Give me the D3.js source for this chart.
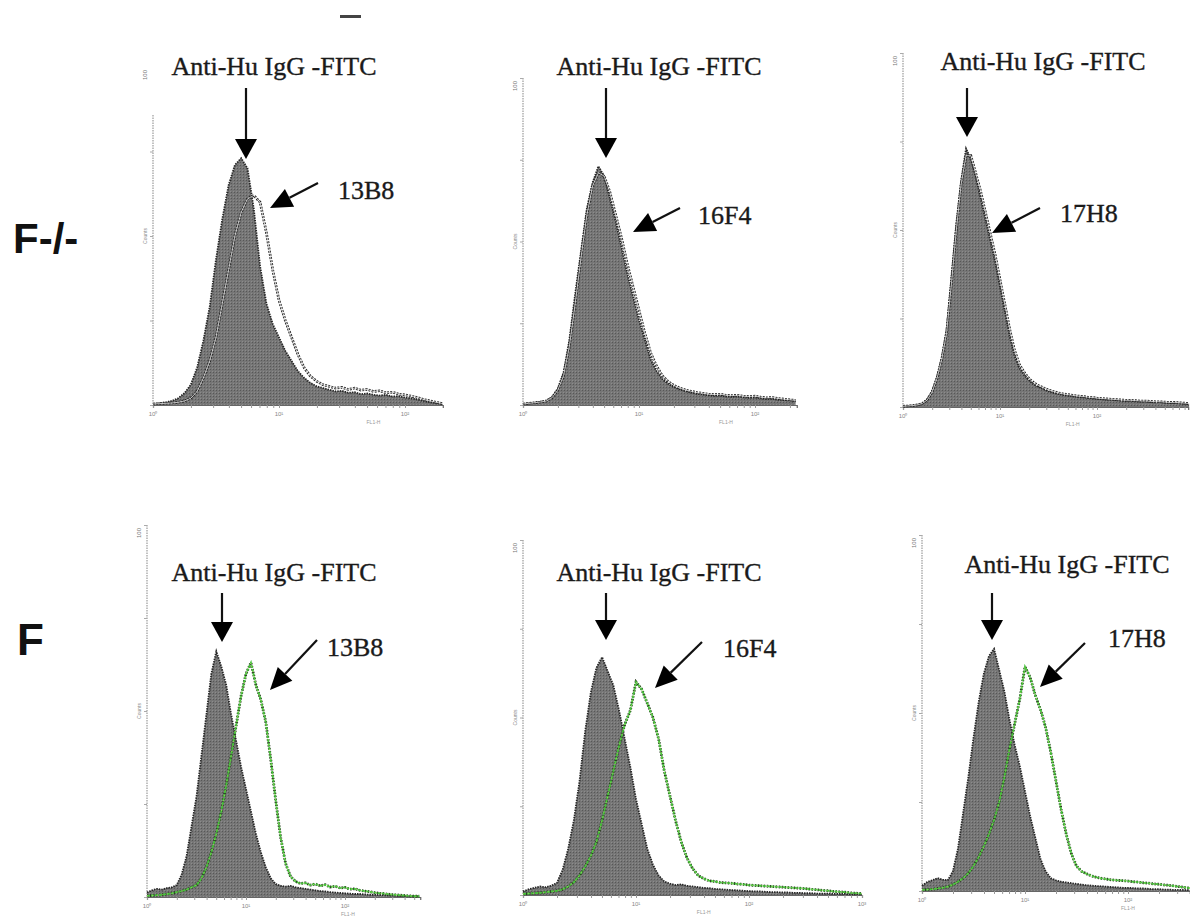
<!DOCTYPE html>
<html><head><meta charset="utf-8">
<script src="https://cdn.jsdelivr.net/npm/d3@7"></script>
<style>body{margin:0;background:#fff}</style>
</head><body>
<svg id="chart" width="1190" height="919"></svg>
<script>
// ---------- DATA ----------
const BIN_STEP = 0.05; // channel bin width in log10 fluorescence units
const rowLabels = ["F-/-", "F"];
const titleText = "Anti-Hu IgG -FITC";
const cloneNames = ["13B8", "16F4", "17H8", "13B8", "16F4", "17H8"];
const xTickLabels = ["10\u2070", "10\u00B9", "10\u00B2", "10\u00B3"];
const xAxisName = "FL1-H";
const yAxisName = "Counts";

// control (Anti-Hu IgG-FITC) histograms, % of full scale counts per bin
const controlP1 = [0.3,0.5,0.8,1.2,2.0,3.5,6,11,19,29,43,55,65,71,73,70,58,41,30,24,20,16,13,10,8,6.5,5.5,5,4.5,4,4.2,3.6,3.8,3.2,3.4,3,2.8,3,2.5,2.6,2.2,2,1.6,1.2,0.8,0.5,0.3];
const controlP2 = [0.3,0.5,0.7,1.0,1.3,2.5,5,10,20,34,47,60,68,73,70,63,56,48,40,33,26,20,14,10.5,8,6.5,5.5,4.8,4.2,3.8,3.4,3.2,3.0,2.8,2.9,2.6,2.5,2.6,2.3,2.2,2.3,2.0,1.8,1.9,1.6,1.5,1.4,1.2];
const controlP3 = [0.2,0.3,0.4,0.6,1.0,2.2,4.5,8.5,14,22,37,52,64,73,70,65,59,53,47,41,34,27,20,14.5,11,9,7.5,6.3,5.6,5,4.4,4.0,3.7,3.4,3.2,3.0,2.8,2.7,2.6,2.4,2.3,2.2,2.0,2.1,1.9,1.8,1.7,1.8,1.6,1.5,1.6,1.4,1.3,1.4,1.2,1.1,1.2,1.0,0.9,0.8];
const controlP4 = [1.2,1.8,2.2,2.0,2.4,2.6,3.2,6,11,19,27,38,49,60,66,62,57,49,42,35,29,23,17,12,8,5,3.5,3,2.8,3,2.6,2.4,2.2,2.0,1.8,1.6,1.5,1.3,1.2,1.1,1.0,0.9,0.8,0.8,0.7,0.6,0.6,0.5,0.5,0.4,0.4,0.3,0.3,0.3,0.2,0.2];
const controlP5 = [1.0,1.6,2.0,2.4,2.2,2.6,3.4,7,13,21,32,46,57,64,67,63,59,52,44,36,27,20,13,8.5,5.5,3.8,3.2,2.8,3.0,2.6,2.4,2.2,2.0,1.9,1.7,1.6,1.5,1.4,1.3,1.2,1.1,1.0,1.0,0.9,0.8,0.8,0.7,0.7,0.6,0.6,0.5,0.5,0.4,0.4,0.4,0.3,0.3,0.3,0.2,0.2,0.2];
const controlP6 = [1.5,2.5,3.0,3.6,3.2,3.0,5.5,12,22,32,43,53,61,66,68,62,56,48,41,35,28,21,15,9,5.5,3.6,3.0,2.6,2.4,2.2,2.0,1.8,1.6,1.5,1.4,1.3,1.2,1.1,1.0,0.9,0.9,0.8,0.7,0.7,0.6,0.5,0.5,0.4,0.4,0.3,0.3,0.3,0.2];

// antibody-stained histograms (13B8, 16F4, 17H8)
const cloneP1 = [0.3,0.4,0.5,0.6,0.8,1.2,2,4,8,13,20,30,40,50,57,61,62,60,51,40,31,25,20,15,11,8.5,7,6,5.5,5,5.2,4.6,5,4.4,4.6,4,4.2,3.6,3.8,3.2,3,2.6,2.2,1.6,1.2,0.8,0.4];
const cloneP2 = [0.3,0.5,0.7,0.9,1.2,2.2,4.5,9,18,31,45,58,67,71,70,65,58,51,43,36,29,22,16,12,9,7.2,6,5.2,4.6,4.2,3.8,3.6,3.3,3.2,3.3,3.0,2.9,3.0,2.7,2.6,2.7,2.4,2.2,2.3,2.0,1.8,1.6,1.4];
const cloneP3 = [0.2,0.3,0.4,0.6,1.0,2.0,4.2,8,13.5,21,35,50,63,71,71,66,61,55,49,43,36,29,22,16,12,9.8,8,6.8,6,5.4,4.8,4.4,4.0,3.7,3.5,3.3,3.1,3.0,2.8,2.7,2.5,2.4,2.3,2.2,2.1,2.0,1.9,1.9,1.8,1.7,1.7,1.6,1.5,1.5,1.4,1.3,1.3,1.2,1.1,1.0];
const cloneP4 = [0.3,0.4,0.5,0.6,0.8,1.0,1.3,1.6,2.0,2.6,3.2,5,8,12,17,23,30,38,46,54,60,63,57,53,47,37,26,16,9,5.5,4.2,3.6,3.8,3.2,3.5,3.0,3.3,2.7,2.9,2.4,2.6,2.1,2.2,1.8,1.6,1.4,1.2,1.0,0.9,0.7,0.6,0.5,0.4,0.3,0.2,0.2];
const cloneP5 = [0.3,0.4,0.5,0.6,0.8,1.0,1.2,1.6,2.4,3.6,5.5,8,11,15,21,28,35,42,48,52,60,58,54,50,44,35,28,21,15,10.5,7.5,5.5,4.6,4.0,3.8,3.5,3.4,3.3,3.1,3.0,2.8,2.7,2.6,2.5,2.4,2.3,2.2,2.1,2.0,1.9,1.8,1.6,1.5,1.3,1.2,1.0,0.9,0.8,0.6,0.5,0.4];
const cloneP6 = [0.3,0.4,0.5,0.7,0.9,1.2,1.8,2.6,3.6,5,7,9.5,12.5,16,20,25,32,40,47,54,63,60,55,51,46,39,31,23,16,10.5,7,5.5,4.8,4.2,3.8,3.5,3.3,3.1,3.0,2.9,2.8,2.6,2.5,2.3,2.2,2.0,1.9,1.7,1.6,1.4,1.2,1.0,0.8];

const controls = [controlP1, controlP2, controlP3, controlP4, controlP5, controlP6];
const clones = [cloneP1, cloneP2, cloneP3, cloneP4, cloneP5, cloneP6];

// ---------- LAYOUT (positions only) ----------
const panels = [
  {row:0, x0:153, dec:126, maxLog:2.3,  base:405, top:67,  axTop:115, tX:274, tY:75,  aX:246, aTop:88,  aTip:159, dT:[318,183], dH:[270,208], lX:338, lY:199, xl:1.75, stain:"bw"},
  {row:0, x0:523, dec:116, maxLog:2.36, base:405, top:78,  axTop:78,  tX:659, tY:75,  aX:606, aTop:88,  aTip:158, dT:[680,208], dH:[633,232], lX:698, lY:224, xl:1.75, stain:"bw"},
  {row:0, x0:903, dec:97,  maxLog:2.94, base:407, top:53,  axTop:53,  tX:1043,tY:70,  aX:967, aTop:88,  aTip:137, dT:[1040,208],dH:[992,233], lX:1060,lY:222, xl:1.75, stain:"bw"},
  {row:1, x0:147, dec:99,  maxLog:2.76, base:897, top:525, axTop:525, tX:274, tY:581, aX:222, aTop:593, aTip:642, dT:[317,640], dH:[270,690], lX:327, lY:656, xl:2.03, stain:"green"},
  {row:1, x0:523, dec:113, maxLog:3.0,  base:895, top:540, axTop:540, tX:659, tY:581, aX:606, aTop:593, aTip:640, dT:[702,642], dH:[655,688], lX:723, lY:657, xl:1.6, stain:"green"},
  {row:1, x0:922, dec:103, maxLog:2.6,  base:891, top:535, axTop:535, tX:1067,tY:573, aX:992, aTop:593, aTip:640, dT:[1085,643],dH:[1040,687], lX:1108,lY:647, xl:2.0, stain:"green"}
];

const svg = d3.select("#chart");
const defs = svg.append("defs");
const pat = defs.append("pattern").attr("id","halftone").attr("patternUnits","userSpaceOnUse").attr("width",3).attr("height",3);
pat.append("rect").attr("width",3).attr("height",3).attr("fill","#767676");
pat.append("rect").attr("x",0).attr("y",0).attr("width",1).attr("height",1).attr("fill","#575757");
pat.append("rect").attr("x",2).attr("y",2).attr("width",1).attr("height",1).attr("fill","#8c8c8c");

// top dash mark
svg.append("rect").attr("x",340).attr("y",15).attr("width",21).attr("height",3).attr("fill","#444");

// row labels
svg.append("text").attr("x",13).attr("y",253).text(rowLabels[0])
  .attr("font-family","Liberation Sans, Arial, sans-serif").attr("font-weight","bold").attr("font-size",42).attr("fill","#111");
svg.append("text").attr("x",17).attr("y",655).text(rowLabels[1])
  .attr("font-family","Liberation Sans, Arial, sans-serif").attr("font-weight","bold").attr("font-size",44).attr("fill","#111");

function arrow(g, x1, y1, x2, y2, headLen, headW, shaftW) {
  const ang = Math.atan2(y2 - y1, x2 - x1);
  const bx = x2 - headLen * Math.cos(ang), by = y2 - headLen * Math.sin(ang);
  g.append("line").attr("x1",x1).attr("y1",y1).attr("x2",bx).attr("y2",by)
    .attr("stroke","#111").attr("stroke-width",shaftW);
  const px = -Math.sin(ang) * headW / 2, py = Math.cos(ang) * headW / 2;
  g.append("path").attr("d",`M${x2},${y2}L${bx+px},${by+py}L${bx-px},${by-py}Z`).attr("fill","#000");
}

panels.forEach((p, i) => {
  const g = svg.append("g");
  const xEnd = p.x0 + p.dec * p.maxLog;
  const x = d3.scaleLog().domain([1, Math.pow(10, p.maxLog)]).range([p.x0, xEnd]);
  const y = d3.scaleLinear().domain([0, 100]).range([p.base, p.top]);
  const toPts = arr => arr.map((v, k) => ({f: Math.pow(10, k * BIN_STEP), c: v}));

  // y axis (dotted, light)
  g.append("line").attr("x1",p.x0).attr("x2",p.x0).attr("y1",p.axTop).attr("y2",p.base)
    .attr("stroke","#9a9a9a").attr("stroke-width",1.2).attr("stroke-dasharray","1.5,1");
  const yAx = d3.axisLeft(y).tickValues([0,25,50,75,100]).tickSize(3).tickFormat("");
  const yg = g.append("g").attr("transform",`translate(${p.x0},0)`).call(yAx);
  yg.select(".domain").remove();
  yg.selectAll("line").attr("stroke","#aaa");
  if (p.axTop > p.top + 5) yg.selectAll(".tick").filter(d => d === 100).remove();
  g.append("text").attr("transform",`translate(${p.x0-6},${p.top+3}) rotate(-90)`).attr("font-size",6)
    .attr("fill","#777").attr("text-anchor","end").attr("font-family","Liberation Sans, sans-serif").text("100");
  g.append("text").attr("transform",`translate(${p.x0-6},${(p.base+p.top)/2}) rotate(-90)`).attr("font-size",5)
    .attr("fill","#888").attr("text-anchor","middle").attr("font-family","Liberation Sans, sans-serif").text(yAxisName);

  // x axis
  const decades = d3.range(0, Math.floor(p.maxLog + 1e-9) + 1).map(e => Math.pow(10, e));
  const minors = x.ticks().filter(v => v <= Math.pow(10, p.maxLog));
  const xAx = d3.axisBottom(x).tickValues(minors).tickSize(3).tickFormat("");
  const xg = g.append("g").attr("transform",`translate(0,${p.base})`).call(xAx);
  xg.select(".domain").attr("stroke","#666").attr("stroke-width",1.2);
  xg.selectAll(".tick line").attr("stroke","#999");
  decades.forEach((d, k) => {
    g.append("text").attr("x",x(d)).attr("y",p.base+11).attr("text-anchor","middle")
      .attr("font-size",6).attr("fill","#888").attr("font-family","Liberation Sans, sans-serif").text(xTickLabels[k]);
  });
  g.append("text").attr("x",x(Math.pow(10,p.xl))).attr("y",p.base+19).attr("text-anchor","middle")
    .attr("font-size",5).attr("fill","#999").attr("font-family","Liberation Sans, sans-serif").text(xAxisName);

  const area = d3.area().x(d => x(d.f)).y0(y(0)).y1(d => y(d.c));
  const line = d3.line().x(d => x(d.f)).y(d => y(d.c));
  const ctrl = toPts(controls[i]);
  const stain = toPts(clones[i]);

  g.append("path").attr("d", area(ctrl)).attr("fill","url(#halftone)");
  g.append("path").attr("d", line(ctrl)).attr("fill","none").attr("stroke","#262626")
    .attr("stroke-width",1.8).attr("stroke-dasharray","1.5,1");

  if (p.stain === "bw") {
    g.append("path").attr("d", line(stain)).attr("fill","none").attr("stroke","#222")
      .attr("stroke-width",2.6).attr("stroke-dasharray","2,1.2");
    g.append("path").attr("d", line(stain)).attr("fill","none").attr("stroke","#e8e8e8")
      .attr("stroke-width",0.8);
  } else {
    g.append("path").attr("d", line(stain)).attr("fill","none").attr("stroke","#2b3a22")
      .attr("stroke-width",2.8).attr("stroke-dasharray","1.5,1.5");
    g.append("path").attr("d", line(stain)).attr("fill","none").attr("stroke","#46c23a")
      .attr("stroke-width",1.8).attr("stroke-dasharray","3,1");
    g.append("path").attr("d", line(stain)).attr("fill","none").attr("stroke","#c8e86a")
      .attr("stroke-width",0.6).attr("stroke-dasharray","1,4");
  }

  // title and annotations
  g.append("text").attr("x",p.tX).attr("y",p.tY).attr("text-anchor","middle")
    .attr("font-family","Liberation Serif, Times New Roman, serif").attr("font-size",26)
    .attr("fill","#1a1a1a").attr("stroke","#1a1a1a").attr("stroke-width",0.35).text(titleText);
  arrow(g, p.aX, p.aTop, p.aX, p.aTip, 20, 22, 2.2);
  arrow(g, p.dT[0], p.dT[1], p.dH[0], p.dH[1], 22, 20, 2.2);
  g.append("text").attr("x",p.lX).attr("y",p.lY)
    .attr("font-family","Liberation Serif, Times New Roman, serif").attr("font-size",26)
    .attr("fill","#1a1a1a").attr("stroke","#1a1a1a").attr("stroke-width",0.35).text(cloneNames[i]);
});
</script>
</body></html>
